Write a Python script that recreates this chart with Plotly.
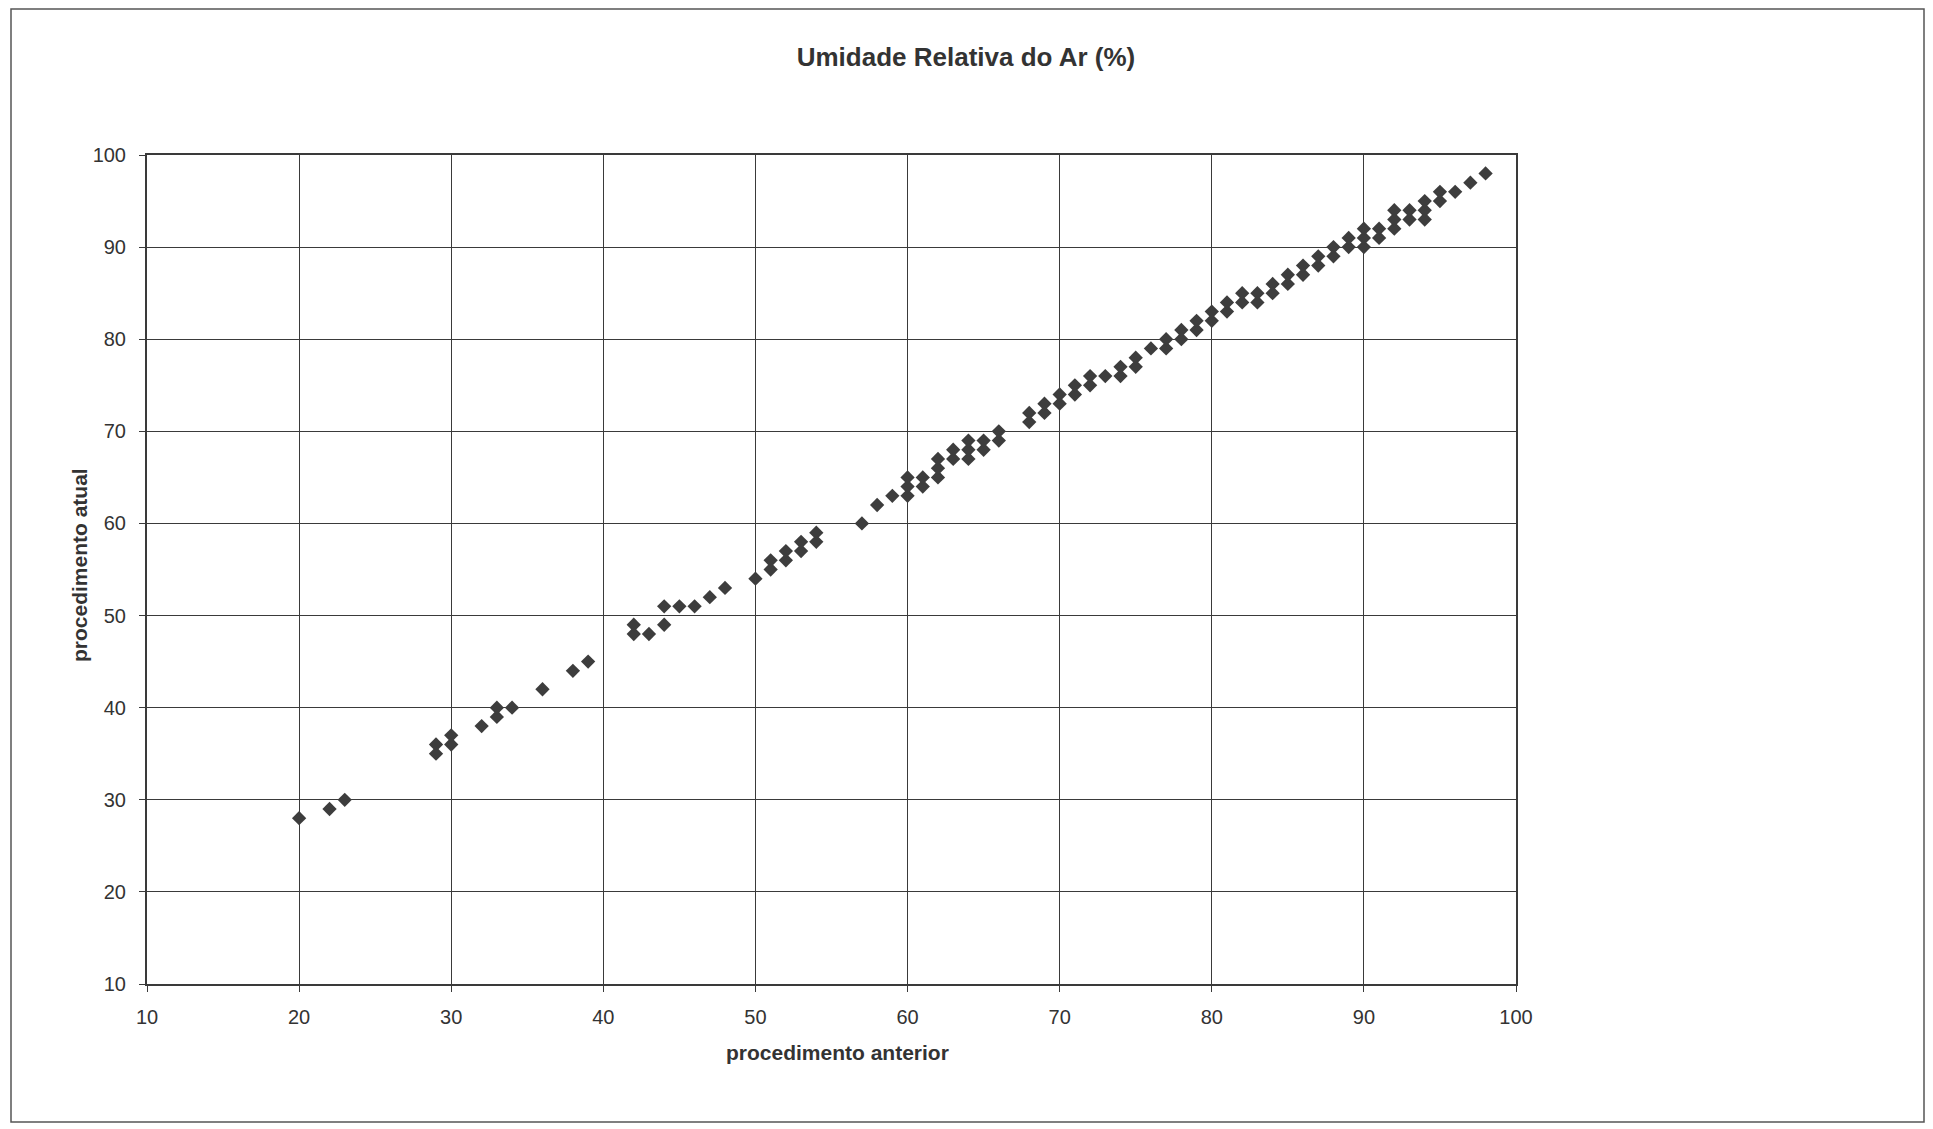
import plotly.graph_objects as go

# procedimento anterior (x) and procedimento atual (y)
anterior = [20, 22, 23,
            29, 29, 30, 30, 32, 33, 33, 34, 36, 38, 39,
            42, 42, 43, 44, 44, 45, 46, 47, 48,
            50, 51, 51, 52, 52, 53, 53, 54, 54,
            57, 58, 59, 60, 60, 60, 61, 61, 62, 62, 62, 63, 63, 64, 64, 64, 65, 65, 66, 66,
            68, 68, 69, 69, 70, 70, 71, 71, 72, 72, 73, 74, 74, 75, 75, 76, 77, 77, 78, 78,
            79, 79, 80, 80, 81, 81, 82, 82, 83, 83, 84, 84, 85, 85, 86, 86, 87, 87, 88, 88,
            89, 89, 90, 90, 90, 91, 91, 92, 92, 92, 93, 93, 94, 94, 94, 95, 95, 96, 97, 98]
atual = [28, 29, 30,
         35, 36, 36, 37, 38, 39, 40, 40, 42, 44, 45,
         48, 49, 48, 49, 51, 51, 51, 52, 53,
         54, 55, 56, 56, 57, 57, 58, 58, 59,
         60, 62, 63, 63, 64, 65, 64, 65, 65, 66, 67, 67, 68, 67, 68, 69, 68, 69, 69, 70,
         71, 72, 72, 73, 73, 74, 74, 75, 75, 76, 76, 76, 77, 77, 78, 79, 79, 80, 80, 81,
         81, 82, 82, 83, 83, 84, 84, 85, 84, 85, 85, 86, 86, 87, 87, 88, 88, 89, 89, 90,
         90, 91, 90, 91, 92, 91, 92, 92, 93, 94, 93, 94, 93, 94, 95, 95, 96, 96, 97, 98]

ticks = [10, 20, 30, 40, 50, 60, 70, 80, 90, 100]

title_text = "Umidade Relativa do Ar (%)"
x_title = "procedimento anterior"
y_title = "procedimento atual"

FONT = "Liberation Sans, Arial, sans-serif"
INK = "#333333"

# the page body adds an 8 px margin, so target positions are shifted back by it
OFF = 8
W, H = 1933 - OFF, 1129 - OFF
L, R, T, B = 147 - OFF, 1516 - OFF, 155 - OFF, 984 - OFF
pw, ph = R - L, B - T


def px(xp):
    return (xp - OFF - L) / pw


def py(yp):
    return (B - (yp - OFF)) / ph


fig = go.Figure()
fig.add_trace(go.Scatter(
    x=anterior, y=atual, mode="markers",
    marker=dict(symbol="diamond", size=11, color="#3d3d3d", line=dict(width=0)),
    showlegend=False, hoverinfo="x+y",
))

axis_common = dict(
    range=[10, 100], tickvals=ticks, ticktext=[str(t) for t in ticks],
    showgrid=True, gridcolor="#3a3a3a", gridwidth=1,
    showline=True, linecolor="#3a3a3a", linewidth=2, mirror=True,
    ticks="outside", ticklen=6, tickcolor="#3a3a3a", tickwidth=1,
    zeroline=False, fixedrange=True,
    tickfont=dict(family=FONT, size=20, color=INK),
)

fig.update_layout(
    width=W, height=H,
    margin=dict(l=L, r=W - R, t=T, b=H - B, autoexpand=False),
    paper_bgcolor="white", plot_bgcolor="white",
    title=dict(text="<b>" + title_text + "</b>", x=(966 - OFF) / W, xref="container", xanchor="center",
               y=1 - (57 - OFF) / H, yref="container", yanchor="middle",
               font=dict(family=FONT, size=26, color=INK)),
    xaxis=dict(**axis_common, ticklabelstandoff=8),
    yaxis=dict(**axis_common, ticklabelstandoff=9),
    shapes=[dict(type="rect", xref="paper", yref="paper",
                 x0=px(11), x1=px(1924), y0=py(1122), y1=py(9),
                 line=dict(color="#555555", width=1.5), layer="below")],
    annotations=[
        dict(text="<b>" + x_title + "</b>", xref="paper", yref="paper",
             x=px(838), y=py(1052), xanchor="center", yanchor="middle", showarrow=False,
             font=dict(family=FONT, size=21, color=INK)),
        dict(text="<b>" + y_title + "</b>", xref="paper", yref="paper",
             x=px(79), y=py(565), xanchor="center", yanchor="middle", showarrow=False,
             textangle=-90, font=dict(family=FONT, size=21, color=INK)),
    ],
)

fig.write_html("out.html")
